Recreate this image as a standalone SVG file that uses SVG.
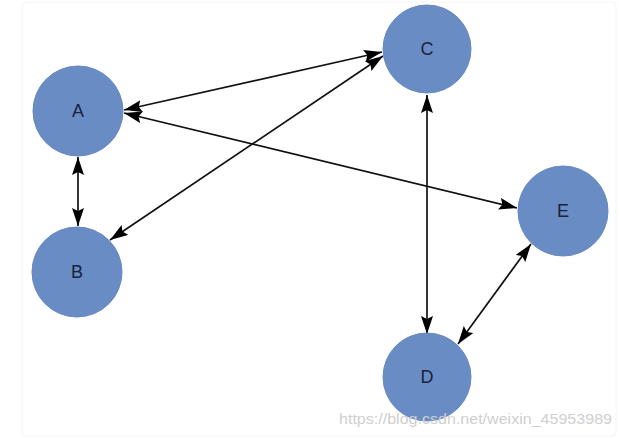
<svg xmlns="http://www.w3.org/2000/svg" width="620" height="438" viewBox="0 0 620 438">
<style>
.node{fill:#6a8cc4;stroke:#6688c2;stroke-width:1}
.lbl{font-family:"Liberation Sans",Arial,sans-serif;font-size:18px;fill:#17233f;text-anchor:middle;dominant-baseline:central}
.edge{stroke:#111;stroke-width:1.7;fill:none;marker-start:url(#ah);marker-end:url(#ah)}
.wm{font-family:"Liberation Sans",Arial,sans-serif;font-size:15px;fill:#cfcfcf}
</style>
<defs>
<marker id="ah" viewBox="0 0 18 12" refX="18" refY="6" markerWidth="18" markerHeight="12" markerUnits="userSpaceOnUse" orient="auto-start-reverse">
<path d="M0,0 L18,6 L0,12 L3,6 Z" fill="#000"/>
</marker>
</defs>
<rect x="0" y="0" width="620" height="438" fill="#fff"/>
<rect x="22" y="2" width="594" height="434" rx="4" fill="none" stroke="#f4f4f4" stroke-width="1"/>
<g id="connectors">
<line class="edge" x1="78" y1="157" x2="78" y2="226"/>
<line class="edge" x1="124" y1="110" x2="382" y2="52"/>
<line class="edge" x1="383" y1="56" x2="110" y2="240"/>
<line class="edge" x1="124" y1="113" x2="517" y2="208"/>
<line class="edge" x1="427" y1="95" x2="427" y2="334"/>
<line class="edge" x1="531" y1="244" x2="458" y2="344"/>
</g>
<g id="A"><circle class="node" cx="78" cy="111" r="45"/><text class="lbl" x="78" y="111">A</text></g>
<g id="B"><circle class="node" cx="77" cy="272" r="45"/><text class="lbl" x="77" y="272">B</text></g>
<g id="C"><circle class="node" cx="427" cy="49" r="44"/><text class="lbl" x="427" y="49">C</text></g>
<g id="D"><circle class="node" cx="427" cy="377" r="44"/><text class="lbl" x="427" y="377">D</text></g>
<g id="E"><circle class="node" cx="563" cy="211" r="45"/><text class="lbl" x="563" y="211">E</text></g>
<text class="wm" x="339" y="424" textLength="273" lengthAdjust="spacingAndGlyphs">https://blog.csdn.net/weixin_45953989</text>
</svg>
